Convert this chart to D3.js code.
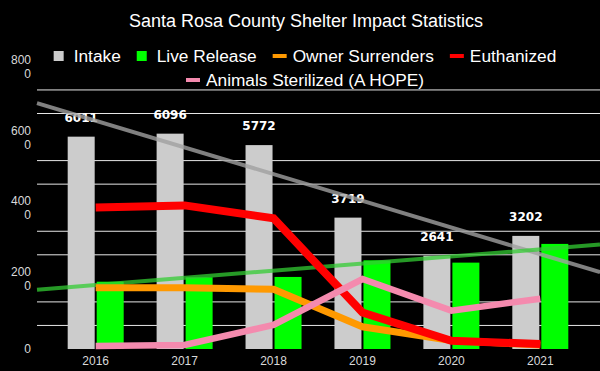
<!DOCTYPE html>
<html>
<head>
<meta charset="utf-8">
<script src="https://cdn.jsdelivr.net/npm/d3@7"></script>
<style>
  body { margin: 0; background: #000; }
  text { font-family: "Liberation Sans", Arial, sans-serif; }
</style>
</head>
<body>
<script>
const years = ["2016", "2017", "2018", "2019", "2020", "2021"];
const intake = [6011, 6096, 5772, 3719, 2641, 3202];
const liveRelease = [1905, 2030, 2040, 2510, 2445, 2975];
const ownerSurrenders = [1735, 1735, 1690, 630, 240, 110];
const euthanized = [4005, 4065, 3700, 1030, 235, 140];
const sterilized = [85, 115, 680, 1980, 1085, 1425];
const yTicks = ["0", "2000", "4000", "6000", "8000"];

const W = 600, H = 371;
const left = 37, right = 599, bottom = 349;

const svg = d3.select("body").append("svg")
	.attr("width", W)
	.attr("height", H)
	.style("background", "#000");

var x = d3.scaleBand()
	.domain(years)
	.range([left, right])
	.paddingInner(0)
	.paddingOuter(0.16);

var xSub = d3.scaleBand()
	.domain(["intake", "live"])
	.range([0, x.bandwidth()])
	.paddingInner(0.069)
	.paddingOuter(0.5675);

var y = d3.scaleLinear()
	.domain([0, 8000])
	.range([bottom, 66.4]);

// index scale for the trend lines
var xIdx = d3.scaleLinear()
	.domain([0, years.length - 1])
	.range([x(years[0]) + x.bandwidth() / 2, x(years[years.length - 1]) + x.bandwidth() / 2]);

// title
svg.append("text")
	.attr("x", 306)
	.attr("y", 27)
	.attr("text-anchor", "middle")
	.attr("fill", "#fff")
	.style("font-size", "18px")
	.text("Santa Rosa County Shelter Impact Statistics");

// gridlines (every 2000/3, skipping the labelled ticks)
var gridVals = d3.range(1, 12).filter(k => k % 3 !== 0).map(k => k * 2000 / 3);
svg.append("g").selectAll("line")
	.data(gridVals)
	.join("line")
	.attr("x1", left)
	.attr("x2", W)
	.attr("y1", d => y(d))
	.attr("y2", d => y(d))
	.attr("stroke", "#e6e6e6")
	.attr("stroke-width", 1);

// y labels, wrapped like the original ("800" / "0")
var yLab = svg.append("g").selectAll("text")
	.data(yTicks)
	.join("text")
	.attr("text-anchor", "end")
	.attr("fill", "#d9d9d9")
	.style("font-size", "12px");
yLab.each(function(d) {
	var t = d3.select(this);
	var yy = y(+d);
	if (d.length > 3) {
		t.append("tspan").attr("x", 31).attr("y", yy - 2.5).text(d.slice(0, 3));
		t.append("tspan").attr("x", 31).attr("y", yy + 11.5).text(d.slice(3));
	} else {
		t.append("tspan").attr("x", 31).attr("y", yy + 4).text(d);
	}
});

// x labels
svg.append("g").selectAll("text")
	.data(years)
	.join("text")
	.attr("x", d => x(d) + x.bandwidth() / 2)
	.attr("y", 365)
	.attr("text-anchor", "middle")
	.attr("fill", "#d9d9d9")
	.style("font-size", "12px")
	.text(d => d);

// bars
var barData = years.map((yr, i) => ({year: yr, intake: intake[i], live: liveRelease[i]}));
var groups = svg.append("g").selectAll("g")
	.data(barData)
	.join("g")
	.attr("transform", d => "translate(" + x(d.year) + ",0)");

groups.append("rect")
	.attr("x", xSub("intake"))
	.attr("y", d => y(d.intake))
	.attr("width", xSub.bandwidth())
	.attr("height", d => bottom - y(d.intake))
	.attr("fill", "#cccccc");

groups.append("rect")
	.attr("x", xSub("live"))
	.attr("y", d => y(d.live))
	.attr("width", xSub.bandwidth())
	.attr("height", d => bottom - y(d.live))
	.attr("fill", "#00ff00");

// linear trend lines
function trend(vals) {
	var n = vals.length;
	var mx = d3.mean(d3.range(n)), my = d3.mean(vals);
	var sxy = d3.sum(vals, (v, i) => (i - mx) * (v - my));
	var sxx = d3.sum(d3.range(n), i => (i - mx) * (i - mx));
	var b = sxy / sxx, a = my - b * mx;
	return i => a + b * i;
}

function drawTrend(vals, color, opacity) {
	var f = trend(vals);
	var i0 = xIdx.invert(left), i1 = xIdx.invert(W);
	svg.append("line")
		.attr("x1", xIdx(i0))
		.attr("x2", xIdx(i1))
		.attr("y1", y(f(i0)))
		.attr("y2", y(f(i1)))
		.attr("stroke", color)
		.attr("stroke-opacity", opacity)
		.attr("stroke-width", 4);
}
drawTrend(intake, "#a0a0a0", 0.8);
drawTrend(liveRelease, "#33cc33", 0.75);

// bar value labels, on top of the trend line
groups.append("text")
	.attr("x", xSub("intake") + xSub.bandwidth() / 2)
	.attr("y", d => y(d.intake) - 15)
	.attr("text-anchor", "middle")
	.attr("fill", "#fff")
	.style("font-family", "'DejaVu Sans', Verdana, sans-serif")
	.style("font-weight", "bold")
	.style("font-size", "12px")
	.text(d => d.intake);

// line series
var line = d3.line()
	.x((d, i) => x(years[i]) + x.bandwidth() / 2)
	.y(d => y(d));

function drawLine(vals, color, width) {
	svg.append("path")
		.datum(vals)
		.attr("d", line)
		.attr("fill", "none")
		.attr("stroke", color)
		.attr("stroke-width", width);
}
drawLine(ownerSurrenders, "#ff9900", 7);
drawLine(euthanized, "#ff0000", 8);
drawLine(sterilized, "#f48aae", 6.5);

// legend
var legendRows = [
	[{name: "Intake", color: "#cccccc", type: "box"},
	 {name: "Live Release", color: "#00ff00", type: "box"},
	 {name: "Owner Surrenders", color: "#ff9900", type: "dash"},
	 {name: "Euthanized", color: "#ff0000", type: "dash"}],
	[{name: "Animals Sterilized (A HOPE)", color: "#f48aae", type: "dash"}]
];
var rowY = [56, 80];

legendRows.forEach(function(row, r) {
	var g = svg.append("g");
	var xPos = 0;
	row.forEach(function(item) {
		var ig = g.append("g").attr("transform", "translate(" + xPos + ",0)");
		if (item.type === "box") {
			ig.append("rect")
				.attr("x", 0).attr("y", rowY[r] - 5)
				.attr("width", 10).attr("height", 10)
				.attr("fill", item.color);
		} else {
			ig.append("rect")
				.attr("x", 0).attr("y", rowY[r] - 2)
				.attr("width", 14).attr("height", 4)
				.attr("fill", item.color);
		}
		var t = ig.append("text")
			.attr("x", 20)
			.attr("y", rowY[r] + 6)
			.attr("fill", "#fff")
			.style("font-size", "17.3px")
			.text(item.name);
		xPos += 20 + t.node().getComputedTextLength() + 16;
	});
	var wRow = xPos - 16;
	g.attr("transform", "translate(" + (305 - wRow / 2) + ",0)");
});
</script>
</body>
</html>
